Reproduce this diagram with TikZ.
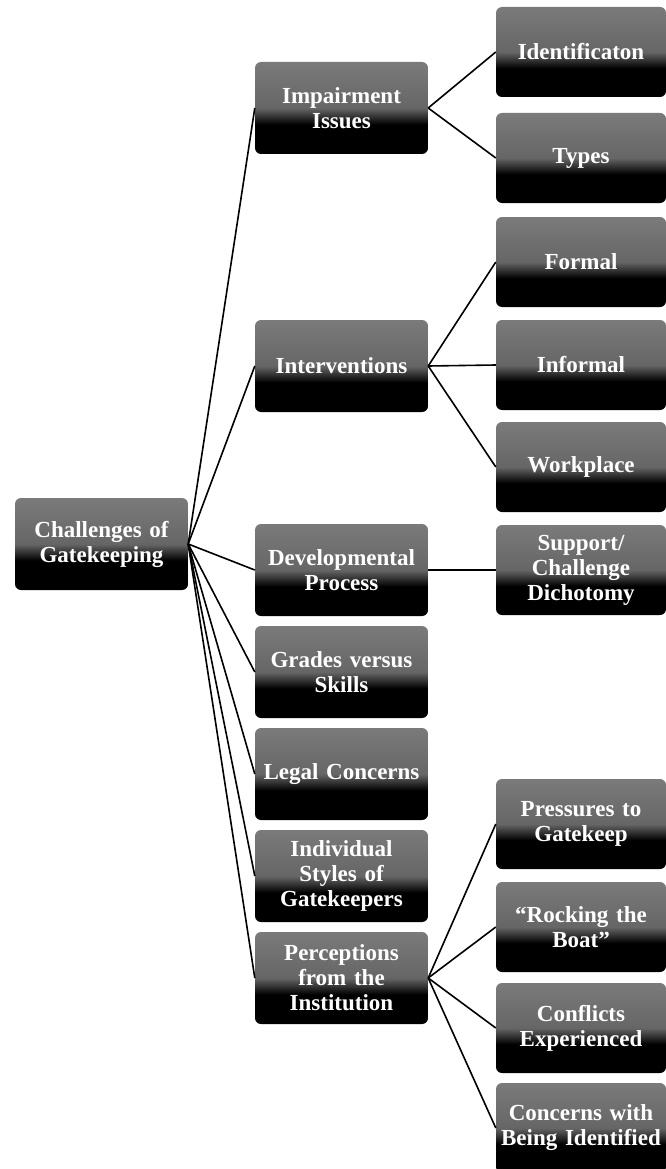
\documentclass[tikz,border=0pt]{standalone}
\usepackage{fontspec}
\setmainfont{Liberation Serif}
\pgfdeclareverticalshading{gloss}{100bp}{color(0bp)=(black); color(25bp)=(black); color(41bp)=(black); color(50bp)=(black!60); color(75bp)=(black!52); color(100bp)=(black!52)}
\tikzset{
  box/.style={rounded corners=6pt, shading=gloss, inner sep=0pt, align=center,
    text=white, font=\fontsize{23}{25}\selectfont\bfseries},
  lvone/.style={box, minimum width=173pt, minimum height=92pt, text width=171pt},
  lvtwo/.style={box, minimum width=173pt, minimum height=92pt, text width=171pt},
  lvthree/.style={box, minimum width=170pt, minimum height=90pt, text width=168pt},
  link/.style={line width=1.6pt, black}
}
\begin{document}
\begin{tikzpicture}[x=1pt,y=-1pt]
\useasboundingbox (0,0) rectangle (666,1169);
% root
\node[lvone] (root) at (101.5,544) {Challenges of\\Gatekeeping};
% level 2
\node[lvtwo] (imp) at (341.5,108) {Impairment\\Issues};
\node[lvtwo] (int) at (341.5,366) {Interventions};
\node[lvtwo] (dev) at (341.5,570) {Developmental\\Process};
\node[lvtwo] (grd) at (341.5,672) {Grades versus\\Skills};
\node[lvtwo] (leg) at (341.5,774) {Legal Concerns};
\node[lvtwo] (ind) at (341.5,876) {Individual\\Styles of\\Gatekeepers};
\node[lvtwo] (per) at (341.5,978) {Perceptions\\from the\\Institution};
% level 3
\node[lvthree] (idf) at (581,52) {Identificaton};
\node[lvthree] (typ) at (581,158) {Types};
\node[lvthree] (frm) at (581,262) {Formal};
\node[lvthree] (inf) at (581,365) {Informal};
\node[lvthree] (wrk) at (581,467) {Workplace};
\node[lvthree] (sup) at (581,570) {Support/\\Challenge\\Dichotomy};
\node[lvthree] (prs) at (581,824) {Pressures to\\Gatekeep};
\node[lvthree] (rck) at (581,927) {“Rocking the\\Boat”};
\node[lvthree] (cnf) at (581,1028) {Conflicts\\Experienced};
\node[lvthree] (cnc) at (581,1128) {Concerns with\\Being Identified};
% connectors
\foreach \t in {imp,int,dev,grd,leg,ind,per}
  \draw[link] (root.east) -- (\t.west);
\foreach \t in {idf,typ} \draw[link] (imp.east) -- (\t.west);
\foreach \t in {frm,inf,wrk} \draw[link] (int.east) -- (\t.west);
\draw[link] (dev.east) -- (sup.west);
\foreach \t in {prs,rck,cnf,cnc} \draw[link] (per.east) -- (\t.west);
\end{tikzpicture}
\end{document}
